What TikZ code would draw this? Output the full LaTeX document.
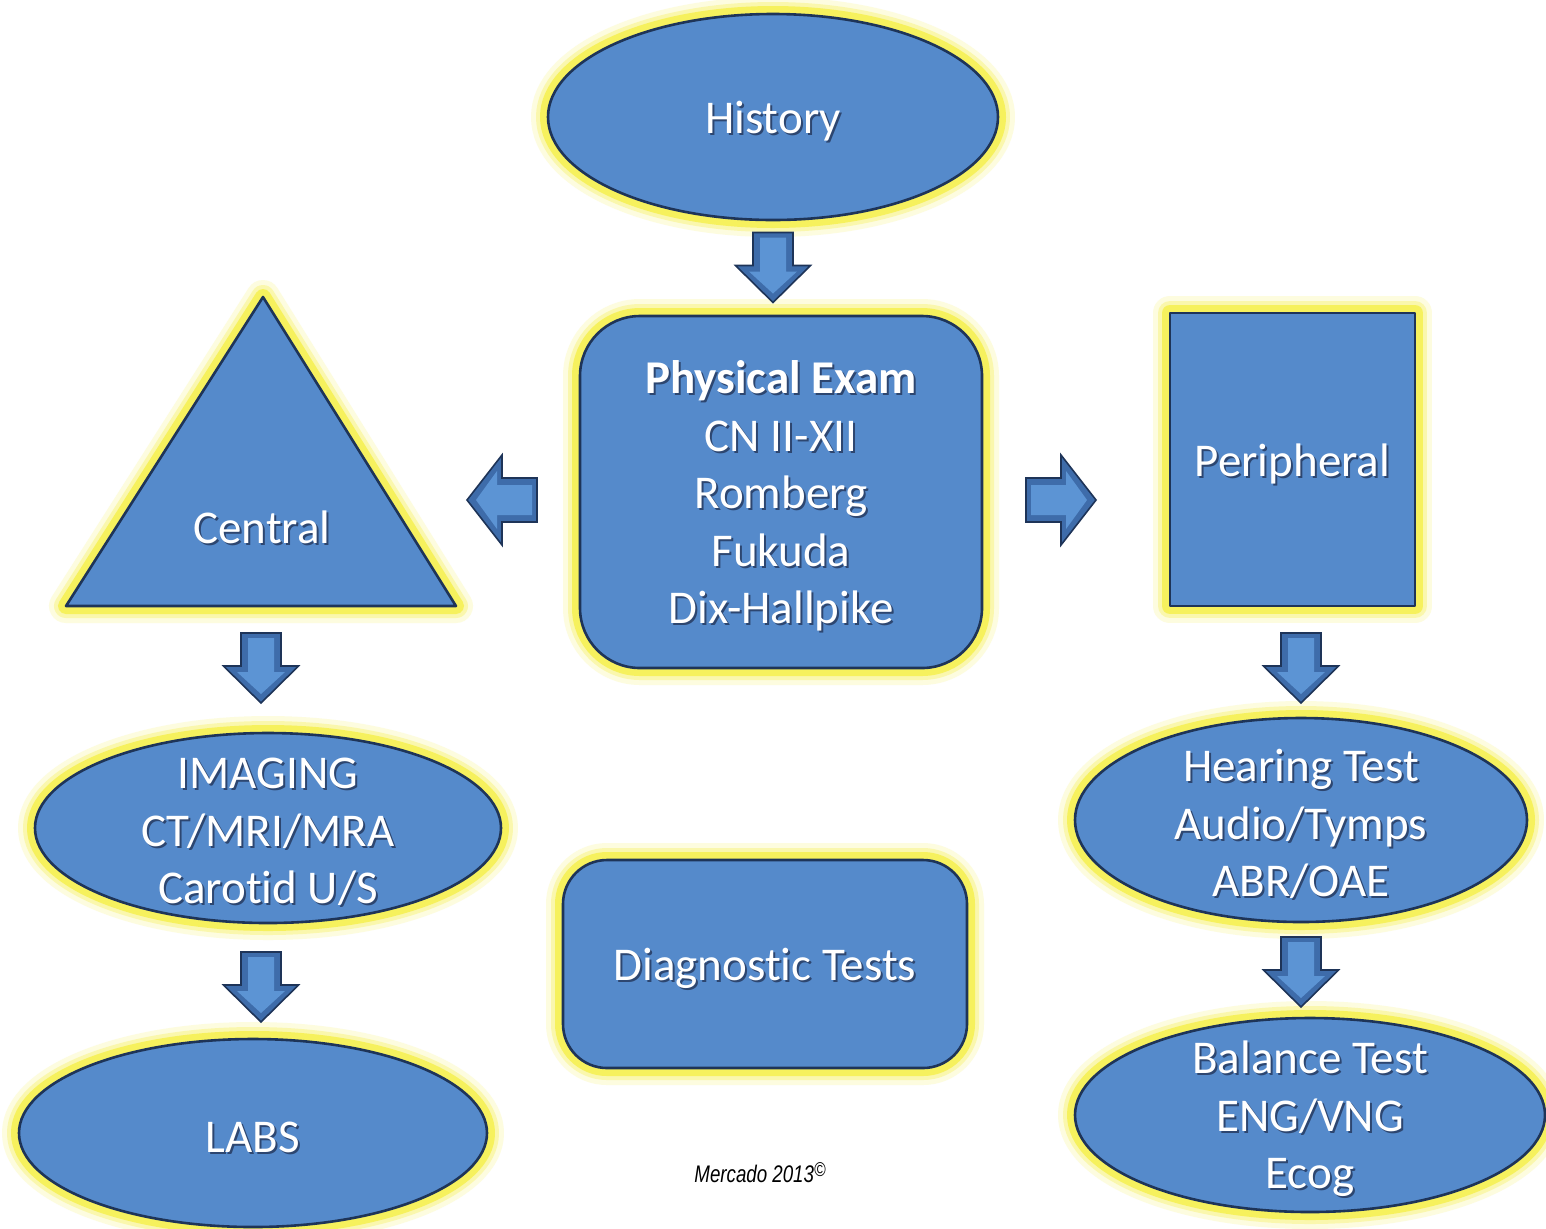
\documentclass[tikz,border=0pt]{standalone}
\usepackage{fontspec}
\setmainfont{Carlito}[Ligatures={NoCommon}]
\newfontfamily\arialf{Liberation Sans}
\usetikzlibrary{shapes.geometric}
\definecolor{fillc}{RGB}{85,138,203}
\definecolor{edgec}{RGB}{30,52,88}
\definecolor{glowc}{RGB}{246,240,80}
\definecolor{shadc}{RGB}{45,70,112}
\definecolor{arrowc}{RGB}{62,108,170}
\definecolor{arrowlt}{RGB}{92,148,212}
\newcommand\sht[1]{\rlap{\kern1pt\raisebox{-1pt}{\color{shadc}#1}}#1}
\tikzset{
  glow/.style={
    preaction={draw=glowc, line width=17pt, draw opacity=0.18, line join=round},
    preaction={draw=glowc, line width=12pt, draw opacity=0.35, line join=round},
    preaction={draw=glowc, line width=8pt, draw opacity=0.85, line join=round}},
  shapebox/.style={glow, fill=fillc, draw=edgec, line width=1.3pt, line join=round},
  ovalbox/.style={shapebox, ellipse, inner sep=0pt},
  rbox/.style={shapebox, rectangle, inner sep=0pt},
  txt/.style={text=white, font=\fontsize{23.5}{28.75}\selectfont, align=center, inner sep=0pt},
  lbl/.style={txt, yshift=-2.5pt},
  arrowsty/.style={fill=arrowc, draw=edgec, line width=0.8pt, line join=miter},
  pics/darr/.style={code={
    \path[arrowsty] (-20,-35) -- (20,-35) -- (20,-2) -- (37.5,-2) -- (0,35) -- (-37.5,-2) -- (-20,-2) -- cycle;
    \path[fill=arrowlt] (-13,-30) -- (13,-30) -- (13,4) -- (24,4) -- (0,26) -- (-24,4) -- (-13,4) -- cycle;
  }},
  pics/larr/.style={code={
    \path[arrowsty] (35,-22) -- (0,-22) -- (0,-45) -- (-35,0) -- (0,45) -- (0,22) -- (35,22) -- cycle;
    \path[fill=arrowlt] (30,-15) -- (-5,-15) -- (-5,-29) -- (-26,0) -- (-5,29) -- (-5,15) -- (30,15) -- cycle;
  }},
}
\begin{document}
\begin{tikzpicture}[x=0.5pt,y=-0.5pt]
\useasboundingbox[fill=white] (0,0) rectangle (1546,1228);

% main shapes
\node[ovalbox, minimum width=225pt, minimum height=103pt,
      label={[lbl]center:\sht{History}}] (hist) at (773,117) {};

\node[rbox, rounded corners=30pt, minimum width=201pt, minimum height=176pt,
      label={[lbl]center:\sht{\textbf{Physical Exam}}\\\sht{CN II-XII}\\\sht{Romberg}\\\sht{Fukuda}\\\sht{Dix-Hallpike}}] (pe) at (781,492) {};

\path[shapebox] (263,297) -- (456,606) -- (66,606) -- cycle;
\node[txt] (central) at (262,528) {\sht{Central}};

\node[rbox, minimum width=122.5pt, minimum height=146.5pt,
      label={[lbl]center:\sht{Peripheral}}] (periph) at (1292.5,459.5) {};

\node[ovalbox, minimum width=233pt, minimum height=95pt,
      label={[lbl]center:\sht{IMAGING}\\\sht{CT/MRI/MRA}\\\sht{Carotid U/S}}] (imaging) at (268,828) {};

\node[ovalbox, minimum width=234pt, minimum height=94pt,
      label={[lbl]center:\sht{LABS}}] (labs) at (253,1133) {};

\node[rbox, rounded corners=22pt, minimum width=202pt, minimum height=104pt,
      label={[lbl]center:\sht{Diagnostic Tests}}] (diag) at (765,964) {};

\node[ovalbox, minimum width=226pt, minimum height=102pt,
      label={[lbl]center:\sht{Hearing Test}\\\sht{Audio/Tymps}\\\sht{ABR/OAE}}] (hearing) at (1301,820) {};

\node[ovalbox, minimum width=235pt, minimum height=97pt,
      label={[lbl]center:\sht{Balance Test}\\\sht{ENG/VNG}\\\sht{Ecog}}] (balance) at (1310,1115) {};

% block arrows
\pic at (773,267.5) {darr};
\pic at (261,668) {darr};
\pic at (1301,668) {darr};
\pic at (261,987) {darr};
\pic at (1301,972) {darr};
\pic at (502,500) {larr};
\pic[xscale=-1] at (1061,500) {larr};

% credit
\node[inner sep=0pt, font=\arialf\itshape\fontsize{12}{14}\selectfont, xscale=0.78] (credit) at (760,1173)
  {Mercado 2013\raisebox{0.25em}{\fontsize{10}{11}\selectfont\textcopyright}};
\end{tikzpicture}
\end{document}
